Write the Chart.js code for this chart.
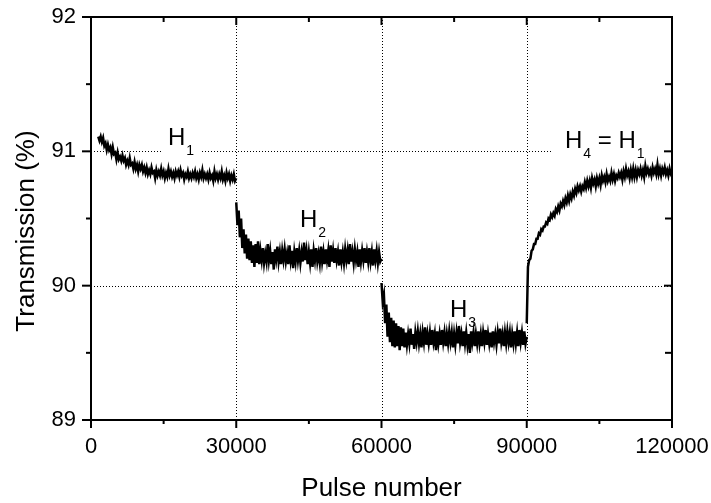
<!DOCTYPE html>
<html>
<head>
<meta charset="utf-8">
<script src="https://cdn.jsdelivr.net/npm/chart.js@4.4.1/dist/chart.umd.min.js"></script>
<style>
  html, body { margin: 0; background: #fff; }
</style>
</head>
<body>
<canvas id="chart" width="711" height="503"></canvas>
<script>
// === Data ===
const PULSE_STEP = 250;

// H1: pulses 1500..30000
const h1Start = 1500;
const h1Values = [
  91.11, 91.08, 91.11, 91.07, 91.10, 91.04, 91.06, 91.01, 91.05, 91.01,
  91.03, 90.98, 91.03, 90.98, 90.99, 90.94, 90.99, 90.94, 90.96, 90.93,
  90.97, 90.93, 90.95, 90.90, 90.93, 90.90, 90.95, 90.90, 90.91, 90.87,
  90.92, 90.87, 90.90, 90.85, 90.90, 90.87, 90.90, 90.85, 90.88, 90.84,
  90.88, 90.83, 90.86, 90.83, 90.88, 90.84, 90.85, 90.80, 90.86, 90.82,
  90.85, 90.82, 90.87, 90.82, 90.85, 90.80, 90.84, 90.81, 90.87, 90.82,
  90.85, 90.81, 90.84, 90.80, 90.85, 90.82, 90.85, 90.81, 90.86, 90.82,
  90.84, 90.79, 90.83, 90.81, 90.85, 90.80, 90.83, 90.80, 90.84, 90.81,
  90.85, 90.80, 90.83, 90.79, 90.84, 90.81, 90.86, 90.80, 90.83, 90.80,
  90.83, 90.79, 90.84, 90.80, 90.82, 90.78, 90.85, 90.80, 90.83, 90.79,
  90.83, 90.80, 90.85, 90.79, 90.82, 90.78, 90.84, 90.80, 90.83, 90.78,
  90.82, 90.79, 90.83, 90.78, 90.80
];

// H2: pulses 30000..60000
const h2Start = 30000;
const h2Values = [
  90.62, 90.45, 90.56, 90.36, 90.50, 90.28, 90.42, 90.24, 90.38, 90.20,
  90.35, 90.19, 90.33, 90.17, 90.30, 90.14, 90.31, 90.17, 90.33, 90.16,
  90.26, 90.19, 90.28, 90.17, 90.24, 90.18, 90.31, 90.19, 90.26, 90.16,
  90.25, 90.12, 90.27, 90.20, 90.29, 90.18, 90.25, 90.16, 90.26, 90.19,
  90.27, 90.18, 90.24, 90.16, 90.30, 90.19, 90.26, 90.13, 90.25, 90.18,
  90.28, 90.19, 90.26, 90.17, 90.25, 90.18, 90.32, 90.19, 90.26, 90.16,
  90.25, 90.17, 90.27, 90.14, 90.26, 90.19, 90.28, 90.18, 90.24, 90.17,
  90.29, 90.18, 90.25, 90.16, 90.27, 90.19, 90.26, 90.14, 90.30, 90.18,
  90.26, 90.17, 90.28, 90.19, 90.25, 90.15, 90.27, 90.18, 90.25, 90.17,
  90.27, 90.19, 90.26, 90.16, 90.31, 90.18, 90.25, 90.17, 90.27, 90.19,
  90.25, 90.14, 90.27, 90.18, 90.26, 90.19, 90.28, 90.17, 90.25, 90.18,
  90.28, 90.18, 90.25, 90.15, 90.27, 90.19, 90.26, 90.17, 90.25, 90.18,
  90.20
];

// H3: pulses 60000..90000
const h3Start = 60000;
const h3Values = [
  90.02, 89.88, 89.93, 89.72, 89.86, 89.62, 89.80, 89.58, 89.76, 89.55,
  89.74, 89.54, 89.72, 89.55, 89.70, 89.52, 89.69, 89.55, 89.68, 89.54,
  89.65, 89.56, 89.64, 89.57, 89.68, 89.56, 89.64, 89.53, 89.65, 89.58,
  89.66, 89.57, 89.64, 89.54, 89.65, 89.58, 89.69, 89.56, 89.64, 89.57,
  89.65, 89.56, 89.67, 89.58, 89.64, 89.52, 89.66, 89.57, 89.64, 89.56,
  89.67, 89.58, 89.65, 89.55, 89.64, 89.57, 89.66, 89.58, 89.65, 89.54,
  89.64, 89.56, 89.65, 89.57, 89.70, 89.58, 89.64, 89.55, 89.66, 89.57,
  89.65, 89.56, 89.64, 89.50, 89.66, 89.58, 89.65, 89.55, 89.64, 89.57,
  89.66, 89.57, 89.64, 89.55, 89.65, 89.58, 89.67, 89.56, 89.64, 89.57,
  89.65, 89.54, 89.66, 89.58, 89.64, 89.56, 89.65, 89.57, 89.68, 89.58,
  89.64, 89.55, 89.65, 89.57, 89.66, 89.58, 89.65, 89.54, 89.64, 89.57,
  89.66, 89.57, 89.65, 89.55, 89.67, 89.58, 89.65, 89.56, 89.66, 89.57,
  89.62
];

// H4 = H1: pulses 90000..120000
const h4Start = 90000;
const h4Values = [
  89.72, 90.14, 90.19, 90.20, 90.26, 90.27, 90.31, 90.31, 90.35, 90.35,
  90.39, 90.38, 90.42, 90.41, 90.44, 90.44, 90.47, 90.46, 90.50, 90.49,
  90.53, 90.51, 90.54, 90.52, 90.57, 90.55, 90.59, 90.56, 90.61, 90.59,
  90.63, 90.60, 90.65, 90.62, 90.67, 90.63, 90.68, 90.65, 90.70, 90.67,
  90.72, 90.69, 90.74, 90.71, 90.74, 90.70, 90.74, 90.72, 90.77, 90.73,
  90.78, 90.74, 90.78, 90.73, 90.80, 90.76, 90.79, 90.74, 90.80, 90.76,
  90.80, 90.75, 90.82, 90.78, 90.81, 90.77, 90.83, 90.78, 90.81, 90.78,
  90.84, 90.79, 90.83, 90.78, 90.82, 90.80, 90.84, 90.81, 90.84, 90.79,
  90.85, 90.81, 90.87, 90.82, 90.85, 90.80, 90.86, 90.81, 90.87, 90.81,
  90.86, 90.81, 90.86, 90.83, 90.87, 90.82, 90.86, 90.81, 90.89, 90.84,
  90.87, 90.83, 90.86, 90.82, 90.88, 90.84, 90.87, 90.83, 90.90, 90.83,
  90.87, 90.82, 90.87, 90.84, 90.88, 90.83, 90.86, 90.82, 90.87, 90.83,
  90.81
];

const xMajor = [0, 30000, 60000, 90000, 120000];
const xMinor = [15000, 45000, 75000, 105000];
const yMajor = [89, 90, 91, 92];
const yMinor = [89.5, 90.5, 91.5];
const xGrid = [30000, 60000, 90000];
const yGrid = [90, 91];

// labels on the plot: x = left of "H", y = baseline of "H" (data units)
const labels = [
  { x: 15900, y: 91.047, parts: [['H', ''], ['1', 'sub']], padL: 5, padR: 6 },
  { x: 43150, y: 90.437, parts: [['H', ''], ['2', 'sub']] },
  { x: 74150, y: 89.767, parts: [['H', ''], ['3', 'sub']] },
  { x: 97900, y: 91.025, parts: [['H', ''], ['4', 'sub'], [' = H', ''], ['1', 'sub']], padL: 13, toRight: true }
];

const FONT = '"Liberation Sans", Arial, sans-serif';

function series(start, values) {
  return values.map((v, i) => ({ x: start + i * PULSE_STEP, y: v }));
}

function line(ctx, x1, y1, x2, y2) {
  ctx.beginPath(); ctx.moveTo(x1, y1); ctx.lineTo(x2, y2); ctx.stroke();
}

function noPadding(s) {
  s.paddingTop = 0; s.paddingBottom = 0; s.paddingLeft = 0; s.paddingRight = 0;
}

// grid below the data; labels, frame, ticks, titles on top
const framePlugin = {
  id: 'frame',
  beforeDatasetsDraw(chart) {
    const { ctx, chartArea: a, scales: { x, y } } = chart;
    ctx.save();
    ctx.strokeStyle = '#000';
    ctx.lineWidth = 1;
    ctx.setLineDash([1, 2]);
    xGrid.forEach(v => {
      const px = Math.round(x.getPixelForValue(v)) + 0.5;
      line(ctx, px, a.top, px, a.bottom);
    });
    yGrid.forEach(v => {
      const py = Math.round(y.getPixelForValue(v)) + 0.5;
      line(ctx, a.left, py, a.right, py);
    });
    ctx.restore();
  },
  afterDatasetsDraw(chart) {
    const { ctx, chartArea: a, scales: { x, y } } = chart;
    ctx.save();

    // labels (white box hides the dotted line behind them)
    labels.forEach(l => {
      const lx = x.getPixelForValue(l.x);
      const ly = y.getPixelForValue(l.y);
      let w = 0;
      l.parts.forEach(([t, kind]) => {
        ctx.font = (kind === 'sub' ? '14px ' : '24px ') + FONT;
        w += ctx.measureText(t).width + (kind === 'sub' ? 1 : 0);
      });
      if (l.padL !== undefined) {
        const gy = y.getPixelForValue(91);
        const right = l.toRight ? a.right - 1 : lx + w + l.padR;
        ctx.fillStyle = '#fff';
        ctx.fillRect(lx - l.padL, gy - 3, right - (lx - l.padL), 7);
      }
      ctx.fillStyle = '#000';
      ctx.textBaseline = 'alphabetic';
      ctx.textAlign = 'left';
      let cx = lx;
      l.parts.forEach(([t, kind]) => {
        if (kind === 'sub') {
          ctx.font = '14px ' + FONT;
          ctx.fillText(t, cx + 1, ly + 10);
          cx += ctx.measureText(t).width + 1;
        } else {
          ctx.font = '24px ' + FONT;
          ctx.fillText(t, cx, ly);
          cx += ctx.measureText(t).width;
        }
      });
    });

    // frame
    ctx.strokeStyle = '#000';
    ctx.lineWidth = 2;
    ctx.lineCap = 'square';
    ctx.strokeRect(a.left, a.top, a.right - a.left, a.bottom - a.top);
    ctx.lineCap = 'butt';
    // x ticks: bottom outward, top inward
    xMajor.forEach(v => {
      const px = x.getPixelForValue(v);
      line(ctx, px, a.bottom, px, a.bottom + 8);
      line(ctx, px, a.top, px, a.top + 8);
    });
    xMinor.forEach(v => {
      const px = x.getPixelForValue(v);
      line(ctx, px, a.bottom, px, a.bottom + 4);
      line(ctx, px, a.top, px, a.top + 5);
    });
    // y ticks: left outward, right inward
    yMajor.forEach(v => {
      const py = y.getPixelForValue(v);
      line(ctx, a.left - 9, py, a.left, py);
      line(ctx, a.right - 8, py, a.right, py);
    });
    yMinor.forEach(v => {
      const py = y.getPixelForValue(v);
      line(ctx, a.left - 5, py, a.left, py);
      line(ctx, a.right - 7, py, a.right, py);
    });

    // axis titles
    ctx.fillStyle = '#000';
    ctx.font = '26px ' + FONT;
    ctx.textAlign = 'center';
    ctx.textBaseline = 'alphabetic';
    ctx.fillText('Pulse number', (a.left + a.right) / 2, 496);
    ctx.translate(34, 231);
    ctx.rotate(-Math.PI / 2);
    ctx.fillText('Transmission (%)', 0, 0);
    ctx.restore();
  }
};

const lineStyle = {
  borderColor: '#000',
  borderWidth: 2.5,
  pointRadius: 0,
  tension: 0,
  fill: false
};

new Chart(document.getElementById('chart'), {
  type: 'line',
  data: {
    datasets: [
      { label: 'H1', data: series(h1Start, h1Values), ...lineStyle },
      { label: 'H2', data: series(h2Start, h2Values), ...lineStyle },
      { label: 'H3', data: series(h3Start, h3Values), ...lineStyle },
      { label: 'H4', data: series(h4Start, h4Values), ...lineStyle }
    ]
  },
  options: {
    responsive: false,
    animation: false,
    devicePixelRatio: 1,
    layout: { padding: { left: 0, top: 17, right: 39, bottom: 0 } },
    plugins: { legend: { display: false }, tooltip: { enabled: false } },
    scales: {
      x: {
        type: 'linear',
        min: 0,
        max: 120000,
        afterFit: s => { s.height = 83; noPadding(s); },
        grid: { display: false, drawTicks: false },
        border: { display: false },
        ticks: {
          stepSize: 30000,
          padding: 14,
          color: '#000',
          font: { family: FONT, size: 22 },
          maxRotation: 0,
          callback: v => String(v)
        }
      },
      y: {
        min: 89,
        max: 92,
        afterFit: s => { s.width = 91; noPadding(s); },
        grid: { display: false, drawTicks: false },
        border: { display: false },
        ticks: {
          stepSize: 1,
          padding: 15,
          color: '#000',
          font: { family: FONT, size: 22 },
          callback: v => String(v)
        }
      }
    }
  },
  plugins: [framePlugin]
});
</script>
</body>
</html>
